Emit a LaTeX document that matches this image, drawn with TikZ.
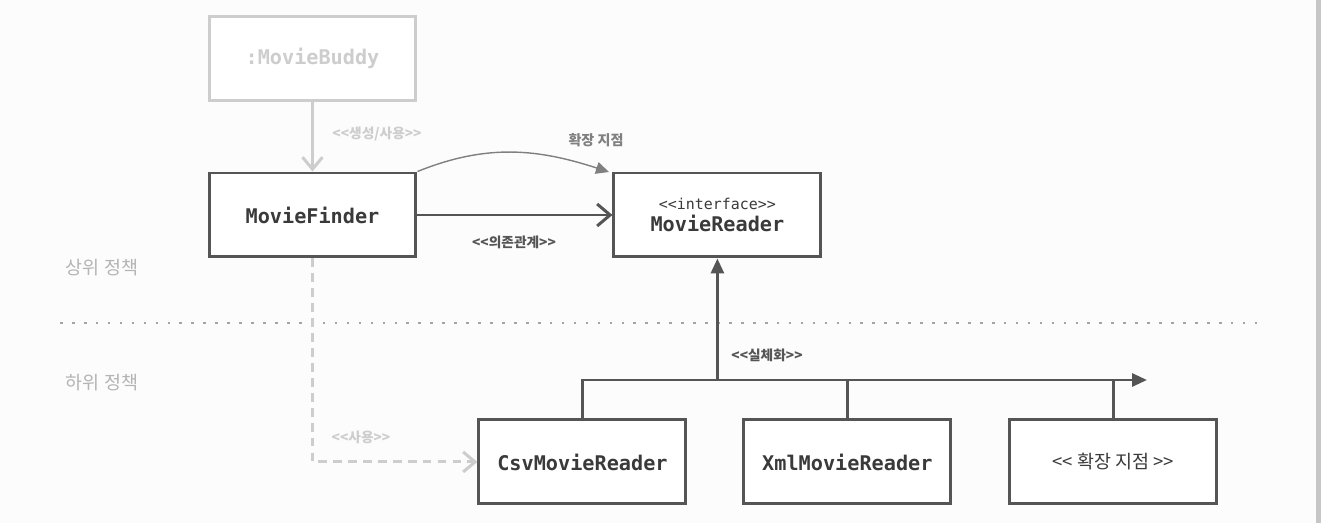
\documentclass[tikz,border=0pt]{standalone}
\usepackage{fontspec}
\setmonofont{DejaVu Sans Mono}
\newfontfamily\kor{Noto Sans CJK KR}
\usetikzlibrary{positioning,arrows.meta}
\definecolor{ink}{HTML}{555555}
\definecolor{txt}{HTML}{3A3A3A}
\definecolor{pale}{HTML}{CDCDCD}
\definecolor{mid}{HTML}{808080}
\definecolor{paper}{HTML}{FCFCFC}
\definecolor{rim}{HTML}{C6C6C6}

\tikzset{
  cls/.style={draw=ink, line width=1.7pt, fill=white, minimum width=4.14cm,
    minimum height=1.68cm, inner sep=0pt, text=txt,
    font=\ttfamily\bfseries\fontsize{11.5}{12}\selectfont},
  ghost/.style={cls, draw=pale, text=pale},
  tag/.style={font=\kor\bfseries\fontsize{7.8}{8}\selectfont, text=ink, inner sep=1pt},
  side/.style={font=\kor\fontsize{10.5}{11}\selectfont, text=pale!88!black, inner sep=0pt},
  dep/.style={draw=ink, line width=1.7pt, -{Straight Barb[length=2.6mm, width=4.4mm, line width=1.7pt]}},
  make/.style={draw=pale, line width=1.7pt, -{Straight Barb[length=2.4mm, width=4mm, line width=1.7pt]}},
  use/.style={make, dash pattern=on 5pt off 3.5pt},
  realize/.style={draw=ink, line width=1.7pt},
  tri/.style={-{Triangle[length=3mm, width=2.6mm]}},
}

\begin{document}
\begin{tikzpicture}[x=0.02cm, y=-0.02cm]
\fill[paper] (0,0) rectangle (1321,523);
\useasboundingbox (0,0) rectangle (1321,523);
\fill[rim] (1316,0) rectangle (1321,523);

% classes
\node[cls] (finder) at (312.5,215) {MovieFinder};
\node[ghost, above=1.4cm of finder] (buddy) {:MovieBuddy};
\node[cls, right=3.9cm of finder, align=center] (reader)
  {{\mdseries\fontsize{8.5}{12}\selectfont <{}<interface>{}>}\\MovieReader};
\node[cls, below right=3.2cm and 1.2cm of finder] (csv) {CsvMovieReader};
\node[cls, right=1.1cm of csv] (xml) {XmlMovieReader};
\node[cls, right=1.12cm of xml, font=\kor\fontsize{10.5}{12}\selectfont] (ext) {<< 확장 지점 >>};

% policy levels
\node[side] (upper) at (102,268) {상위 정책};
\node[side] (lower) at (102,383) {하위 정책};
\coordinate (divL) at (60,323);
\coordinate (divR) at (1262,323);
\draw[pale!80!black, line width=1.5pt, dash pattern=on 1.5pt off 5.3pt] (divL) -- (divR);

% dependencies
\draw[make] (buddy) -- (finder);
\node[tag, text=pale] (lblMake) at (377,134) {<<생성/사용>>};
\draw[dep] (finder.east) -- (reader.west);
\node[tag] (lblDep) at (514,242) {<<의존관계>>};
\coordinate (extTip) at (609,172);
\draw[mid, line width=0.8pt, -{Triangle[length=2.6mm, width=2.4mm]}]
  (finder.north east) to[out=22, in=162] (extTip);
\node[tag, text=mid, font=\kor\bfseries\fontsize{8}{9}\selectfont] (lblExt) at (596,140) {확장 지점};
\draw[use] (finder.south) |- (csv.west);
\node[tag, text=pale] (lblUse) at (361,437) {<<사용>>};

% realization
\coordinate (busEnd) at (1147,380);
\draw[realize, tri] (csv.north) |- (busEnd);
\draw[realize] (xml.north) -- (xml.north |- busEnd);
\draw[realize] (ext.north) -- (ext.north |- busEnd);
\draw[realize, tri] (reader.south |- busEnd) -- (reader.south);
\node[tag] (lblReal) at (767,355) {<<실체화>>};
\end{tikzpicture}
\end{document}
